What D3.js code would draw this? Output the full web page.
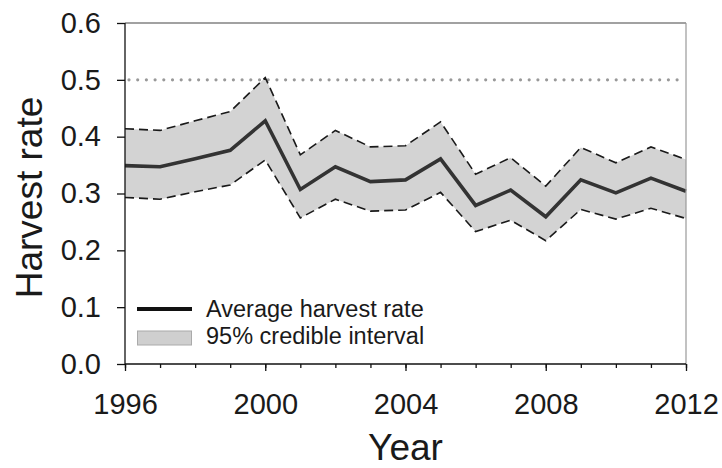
<!DOCTYPE html>
<html>
<head>
<meta charset="utf-8">
<script src="https://cdn.jsdelivr.net/npm/d3@7"></script>
<style>
  html, body { margin: 0; padding: 0; background: #fff; }
  svg { display: block; font-family: Arial, "Liberation Sans", sans-serif; }
</style>
</head>
<body>
<svg id="chart" width="722" height="468"></svg>
<script>
const years = [1996, 1997, 1998, 1999, 2000, 2001, 2002, 2003, 2004, 2005, 2006, 2007, 2008, 2009, 2010, 2011, 2012];
const meanRate = [0.349, 0.347, 0.361, 0.376, 0.428, 0.307, 0.347, 0.321, 0.324, 0.361, 0.279, 0.306, 0.259, 0.324, 0.301, 0.327, 0.304];
const upperCI = [0.414, 0.411, 0.428, 0.444, 0.504, 0.368, 0.411, 0.382, 0.384, 0.426, 0.334, 0.363, 0.313, 0.381, 0.354, 0.382, 0.360];
const lowerCI = [0.293, 0.290, 0.303, 0.315, 0.359, 0.257, 0.290, 0.269, 0.271, 0.302, 0.233, 0.253, 0.217, 0.272, 0.255, 0.274, 0.256];
const yTicks = [0.0, 0.1, 0.2, 0.3, 0.4, 0.5, 0.6];
const xMajorTicks = [1996, 2000, 2004, 2008, 2012];
const refLevel = 0.5;
const legendLabels = ["Average harvest rate", "95% credible interval"];

const svg = d3.select("#chart");
const L = 125, R = 686, T = 23, B = 364;
const x = d3.scaleLinear().domain([1996, 2012]).range([L, R]);
const y = d3.scaleLinear().domain([0, 0.6]).range([B, T]);

const data = years.map((yr, i) => ({ yr, m: meanRate[i], u: upperCI[i], l: lowerCI[i] }));

// band
svg.append("path")
  .datum(data)
  .attr("fill", "#d3d3d3")
  .attr("d", d3.area().x(d => x(d.yr)).y0(d => y(d.l)).y1(d => y(d.u)));

// reference dotted line
svg.append("line")
  .attr("x1", x(1996) + 4).attr("x2", R - 2)
  .attr("y1", y(refLevel)).attr("y2", y(refLevel))
  .attr("stroke", "#999").attr("stroke-width", 3.2)
  .attr("stroke-linecap", "round")
  .attr("stroke-dasharray", "0,8.7");

// dashed bounds
["u", "l"].forEach(k => {
  svg.append("path")
    .datum(data)
    .attr("fill", "none")
    .attr("stroke", "#1a1a1a")
    .attr("stroke-width", 1.6)
    .attr("stroke-dasharray", "9,5")
    .attr("d", d3.line().x(d => x(d.yr)).y(d => y(d[k])));
});

// mean line
svg.append("path")
  .datum(data)
  .attr("fill", "none")
  .attr("stroke", "#333")
  .attr("stroke-width", 3.6)
  .attr("stroke-linejoin", "miter")
  .attr("d", d3.line().x(d => x(d.yr)).y(d => y(d.m)));

// frame top & right
svg.append("line").attr("x1", L).attr("x2", R).attr("y1", T).attr("y2", T)
  .attr("stroke", "#444").attr("stroke-width", 1.2);
svg.append("line").attr("x1", R).attr("x2", R).attr("y1", T).attr("y2", B)
  .attr("stroke", "#999").attr("stroke-width", 1.2);

// y axis
const yAxis = svg.append("g")
  .attr("transform", `translate(${L},0)`)
  .call(d3.axisLeft(y).tickValues(yTicks).tickFormat(d3.format(".1f")).tickSize(8).tickPadding(16));
yAxis.select(".domain").attr("stroke", "#111").attr("stroke-width", 1.3).attr("d", `M0,${T}V${B}`);
yAxis.selectAll(".tick line").attr("stroke", "#111").attr("stroke-width", 1.3);
yAxis.selectAll("text").attr("font-size", 29).attr("fill", "#1a1a1a")
  .attr("font-family", "Arial, 'Liberation Sans', sans-serif");

// x axis minor ticks
const xMinor = svg.append("g")
  .attr("transform", `translate(0,${B})`)
  .call(d3.axisBottom(x).tickValues(years).tickSize(4).tickFormat(""));
xMinor.select(".domain").remove();
xMinor.selectAll(".tick line").attr("stroke", "#111").attr("stroke-width", 1.3);

// x axis major
const xAxis = svg.append("g")
  .attr("transform", `translate(0,${B})`)
  .call(d3.axisBottom(x).tickValues(xMajorTicks).tickFormat(d3.format("d")).tickSize(7).tickPadding(22));
xAxis.select(".domain").attr("stroke", "#111").attr("stroke-width", 1.3).attr("d", `M${L},0H${R}`);
xAxis.selectAll(".tick line").attr("stroke", "#111").attr("stroke-width", 1.3);
xAxis.selectAll("text").attr("font-size", 29).attr("fill", "#1a1a1a")
  .attr("font-family", "Arial, 'Liberation Sans', sans-serif");

// axis titles
svg.append("text")
  .attr("transform", "rotate(-90)")
  .attr("x", -197.5).attr("y", 42)
  .attr("text-anchor", "middle")
  .attr("font-size", 37).attr("fill", "#1a1a1a")
  .text("Harvest rate");
svg.append("text")
  .attr("x", (L + R) / 2).attr("y", 460)
  .attr("text-anchor", "middle")
  .attr("font-size", 37).attr("fill", "#1a1a1a")
  .text("Year");

// legend
const lg = svg.append("g");
lg.append("line").attr("x1", 137).attr("x2", 192).attr("y1", 309).attr("y2", 309)
  .attr("stroke", "#111").attr("stroke-width", 3.8);
lg.append("rect").attr("x", 137.5).attr("y", 331).attr("width", 54).attr("height", 14)
  .attr("fill", "#cfcfcf").attr("stroke", "#aaa").attr("stroke-width", 1);
lg.selectAll("text.lgt").data(legendLabels).enter().append("text")
  .attr("class", "lgt")
  .attr("x", 206).attr("y", (d, i) => 316.7 + i * 27)
  .attr("font-size", 23.5).attr("fill", "#1a1a1a")
  .text(d => d);
</script>
</body>
</html>
